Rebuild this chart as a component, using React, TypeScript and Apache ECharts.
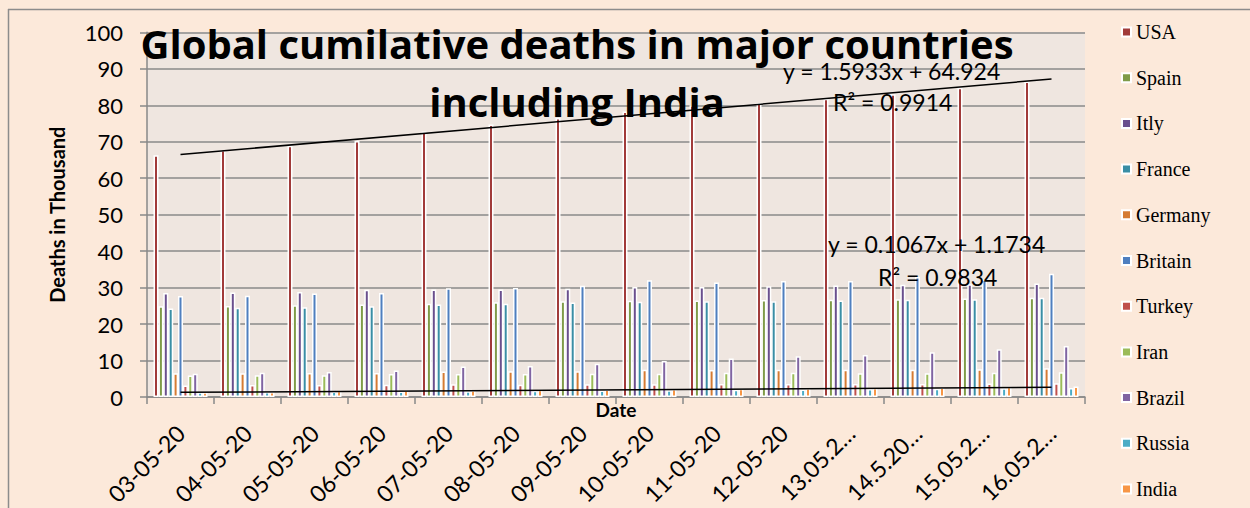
import React, { useEffect, useRef } from "react";
import * as echarts from "echarts";

const categories = [
  "03-05-20", "04-05-20", "05-05-20", "06-05-20", "07-05-20", "08-05-20", "09-05-20",
  "10-05-20", "11-05-20", "12-05-20", "13.05.2…", "14.5.20…", "15.05.2…", "16.05.2…",
];

const countries = ["USA", "Spain", "Itly", "France", "Germany", "Britain", "Turkey", "Iran", "Brazil", "Russia", "India"];
const colors = ["#A13B3A", "#7F9B48", "#6A4F8D", "#3A8EA5", "#D57B33", "#4F7FBF", "#C0504D", "#9BBB59", "#8064A2", "#4BACC6", "#F79646"];

const usa = [66.3, 67.7, 68.9, 70.2, 72.8, 74.7, 76.5, 78.3, 80.0, 80.6, 81.8, 83.0, 84.8, 86.5];
const spain = [24.9, 25.0, 25.2, 25.4, 25.6, 26.0, 26.3, 26.4, 26.5, 26.6, 26.7, 26.8, 27.0, 27.2];
const italy = [28.5, 28.7, 28.8, 29.4, 29.5, 29.5, 29.7, 30.2, 30.2, 30.4, 30.6, 30.8, 30.9, 31.1];
const france = [24.3, 24.5, 24.6, 24.9, 25.4, 25.6, 25.9, 26.1, 26.3, 26.3, 26.5, 26.7, 26.8, 27.2];
const germany = [6.5, 6.5, 6.6, 6.6, 7.0, 7.1, 7.1, 7.5, 7.4, 7.5, 7.5, 7.5, 7.6, 7.9];
const britain = [27.7, 27.8, 28.4, 28.5, 29.8, 29.9, 30.5, 32.0, 31.4, 31.8, 31.8, 32.9, 32.2, 33.8];
const turkey = [3.2, 3.3, 3.3, 3.4, 3.5, 3.4, 3.5, 3.5, 3.6, 3.6, 3.6, 3.6, 3.7, 3.8];
const iran = [5.9, 6.0, 6.0, 6.3, 6.3, 6.3, 6.4, 6.4, 6.7, 6.7, 6.5, 6.5, 6.7, 6.8];
const brazil = [6.4, 6.7, 6.9, 7.3, 8.4, 8.5, 9.1, 9.9, 10.6, 11.2, 11.5, 12.3, 13.1, 14.0];
const russia = [1.3, 1.4, 1.5, 1.5, 1.6, 1.7, 1.8, 1.9, 2.0, 2.1, 2.2, 2.3, 2.4, 2.5];
const india = [1.3, 1.4, 1.7, 1.8, 1.9, 2.0, 2.1, 2.2, 2.3, 2.4, 2.5, 2.6, 2.8, 2.9];

const seriesValues = [usa, spain, italy, france, germany, britain, turkey, iran, brazil, russia, india];

// trendline endpoints (first and last category)
const upperTrendEnds = [66.5, 87.2];
const lowerTrendEnds = [1.3, 2.7];

const upperTrendLabel = ["y = 1.5933x + 64.924", "R² = 0.9914"];
const lowerTrendLabel = ["y = 0.1067x + 1.1734", "R² = 0.9834"];

const yTicks = { min: 0, max: 100, interval: 10 };

const FONT = "Lato, 'Open Sans', sans-serif";

function trendData(ends: number[]) {
  return categories.map((_, i) => (i === 0 ? ends[0] : i === categories.length - 1 ? ends[1] : null));
}

export default function App() {
  const ref = useRef<HTMLDivElement>(null);
  useEffect(() => {
    if (!ref.current) return;
    const chart = echarts.init(ref.current, undefined, { renderer: "svg" });
    const bars = countries.map((name, i) => ({
      name,
      type: "bar",
      data: seriesValues[i],
      barWidth: 5,
      barGap: "-2%",
      itemStyle: { color: colors[i], borderColor: "#ffffff", borderWidth: 1.5 },
      z: 2,
    }));
    const trend = (ends: number[]) => ({
      type: "line",
      data: trendData(ends),
      connectNulls: true,
      symbol: "none",
      lineStyle: { color: "#000000", width: 1.5 },
      z: 5,
      silent: true,
    });
    chart.setOption({
      animation: false,
      backgroundColor: "#FCE9DA",
      textStyle: { fontFamily: FONT },
      title: {
        text: "Global cumilative deaths in major countries\nincluding India",
        left: 577,
        top: 14,
        padding: 0,
        textAlign: "center",
        textStyle: { fontFamily: "'Open Sans', Lato, sans-serif", fontWeight: "bold", fontSize: 40, lineHeight: 58, color: "#000" },
        z: 10,
      },
      legend: {
        orient: "vertical",
        left: 1121,
        top: 22,
        height: 490,
        padding: 0,
        itemWidth: 9,
        itemHeight: 9,
        itemGap: 25.7,
        icon: "rect",
        data: countries,
        textStyle: { fontFamily: "'Liberation Serif', 'Times New Roman', serif", fontSize: 20, color: "#000", lineHeight: 20 },
      },
      grid: {
        left: 147,
        right: 165,
        top: 32.3,
        bottom: 109,
        show: true,
        backgroundColor: "#EFE6E0",
        borderWidth: 0,
      },
      xAxis: {
        type: "category",
        data: categories,
        boundaryGap: true,
        name: "Date",
        nameLocation: "middle",
        nameGap: 3,
        nameMoveOverlap: false,
        nameTextStyle: { fontFamily: FONT, fontWeight: "bold", fontSize: 19, color: "#000", verticalAlign: "top" },
        axisLine: { lineStyle: { color: "#898989", width: 1.5 } },
        axisTick: { show: true, length: 7, lineStyle: { color: "#898989", width: 1.5 } },
        axisLabel: { rotate: 45, fontSize: 23, color: "#000", margin: 32, interval: 0, fontFamily: FONT },
      },
      yAxis: {
        type: "value",
        min: yTicks.min,
        max: yTicks.max,
        interval: yTicks.interval,
        name: "Deaths in Thousand",
        nameLocation: "middle",
        nameGap: 80,
        nameTextStyle: { fontFamily: FONT, fontWeight: "bold", fontSize: 20, color: "#000" },
        axisLine: { show: true, lineStyle: { color: "#898989", width: 1.5 } },
        axisTick: { show: true, length: 7, lineStyle: { color: "#898989", width: 1.5 } },
        axisLabel: { fontSize: 22, color: "#000", margin: 24, fontFamily: FONT },
        splitLine: { show: true, lineStyle: { color: "#8A8A8A", width: 1.7 } },
      },
      graphic: [
        { type: "line", shape: { x1: 8.5, y1: 9, x2: 8.5, y2: 508 }, style: { stroke: "#8C8C8C", lineWidth: 1.5 }, z: 0 },
        { type: "line", shape: { x1: 8, y1: 9.5, x2: 1250, y2: 9.5 }, style: { stroke: "#8C8C8C", lineWidth: 1.5 }, z: 0 },
        { type: "text", left: 783, top: 59, z: 100, style: { text: upperTrendLabel[0], font: `23px ${FONT}`, fill: "#000" } },
        { type: "text", left: 833, top: 90, z: 100, style: { text: upperTrendLabel[1], font: `23px ${FONT}`, fill: "#000" } },
        { type: "text", left: 828, top: 232, z: 100, style: { text: lowerTrendLabel[0], font: `23px ${FONT}`, fill: "#000" } },
        { type: "text", left: 878, top: 265, z: 100, style: { text: lowerTrendLabel[1], font: `23px ${FONT}`, fill: "#000" } },
      ],
      series: [...bars, trend(upperTrendEnds), trend(lowerTrendEnds)],
    });
    return () => chart.dispose();
  }, []);
  return (
    <div style={{ position: "fixed", left: 0, top: 0, width: 1250, height: 508, background: "#FCE9DA" }}>
      <div ref={ref} style={{ width: 1250, height: 508 }} />
    </div>
  );
}
